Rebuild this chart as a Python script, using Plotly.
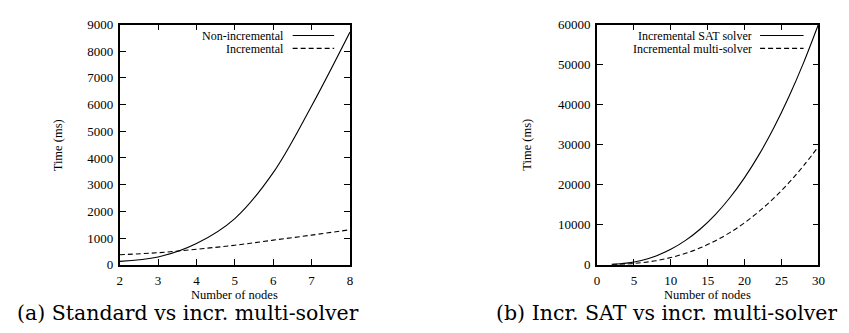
import plotly.graph_objects as go

# ---- data ----
left_nodes = [2, 3, 4, 5, 6, 7, 8]
non_incremental = [125, 290, 795, 1730, 3450, 5950, 8720]
incremental = [375, 450, 580, 730, 920, 1110, 1310]

right_nodes = [2, 4, 6, 8, 10, 12, 14, 16, 18, 20, 22, 24, 26, 28, 30]
incr_sat = [80, 390, 1070, 2200, 3850, 6070, 8930, 12460, 16730, 21770, 27630, 34340, 41950, 50490, 60000]
incr_multi = [40, 175, 490, 1010, 1790, 2850, 4220, 5940, 8020, 10490, 13380, 16700, 20480, 24740, 29500]

left_names = ["Non-incremental", "Incremental"]
right_names = ["Incremental SAT solver", "Incremental multi-solver"]
captions = ["(a) Standard vs incr. multi-solver", "(b) Incr. SAT vs incr. multi-solver"]
x_title = "Number of nodes"
y_title = "Time (ms)"

W, H = 849, 333
SERIF = "Liberation Serif, Times New Roman, Times, serif"
CAPFONT = "DejaVu Serif, serif"

fig = go.Figure()
solid = dict(color="black", width=1.1)
dashed = dict(color="black", width=1.1, dash="5px,3px")

fig.add_trace(go.Scatter(x=left_nodes, y=non_incremental, mode="lines", line=dict(shape="spline", **solid),
                         name=left_names[0], xaxis="x", yaxis="y", showlegend=False))
fig.add_trace(go.Scatter(x=left_nodes, y=incremental, mode="lines", line=dict(shape="spline", **dashed),
                         name=left_names[1], xaxis="x", yaxis="y", showlegend=False))
fig.add_trace(go.Scatter(x=right_nodes, y=incr_sat, mode="lines", line=dict(shape="spline", **solid),
                         name=right_names[0], xaxis="x2", yaxis="y2", showlegend=False))
fig.add_trace(go.Scatter(x=right_nodes, y=incr_multi, mode="lines", line=dict(shape="spline", **dashed),
                         name=right_names[1], xaxis="x2", yaxis="y2", showlegend=False))

def px_x(p):
    return p / W

def px_y(p):
    return 1 - p / H

left_dom = [px_x(110), px_x(343)]
right_dom = [px_x(593), px_x(817)]
y_dom = [px_y(261.5), px_y(10)]

tick_font = dict(family=SERIF, size=13, color="black")
axis_common = dict(showline=True, linecolor="black", linewidth=1.6, mirror="ticks", ticks="inside",
                   ticklen=6, tickwidth=1.4, tickcolor="black", showgrid=False, zeroline=False,
                   tickfont=tick_font, tickformat="d")

fig.update_layout(
    width=W, height=H, margin=dict(l=0, r=0, t=0, b=0),
    paper_bgcolor="white", plot_bgcolor="white",
    xaxis=dict(domain=left_dom, range=[2, 8], dtick=1, anchor="y", ticklabelstandoff=3, **axis_common),
    yaxis=dict(domain=y_dom, range=[0, 9000], dtick=1000, anchor="x", ticklabelstandoff=2, **axis_common),
    xaxis2=dict(domain=right_dom, range=[0, 30], dtick=5, anchor="y2", ticklabelstandoff=3, **axis_common),
    yaxis2=dict(domain=y_dom, range=[0, 60000], dtick=10000, anchor="x2", ticklabelstandoff=2, **axis_common),
)

label_font = dict(family=SERIF, size=12.5, color="black")
# axis titles
for cx in [(110 + 343) / 2, (593 + 817) / 2]:
    fig.add_annotation(x=px_x(cx), y=px_y(293.5), xref="paper", yref="paper", text=x_title,
                       showarrow=False, xanchor="center", yanchor="middle", height=12, valign="middle",
                       font=label_font)
for cx in [47, 522]:
    fig.add_annotation(x=px_x(cx), y=px_y(136), xref="paper", yref="paper", text=y_title, textangle=-90,
                       showarrow=False, xanchor="center", yanchor="middle", font=label_font)

# legends drawn gnuplot-style: text on the left, line sample on the right
key_font = dict(family=SERIF, size=12, color="black")
def add_key(text_right, line_x0, line_x1, rows, names):
    for (y, name, style) in zip(rows, names, ["solid", "dash"]):
        fig.add_annotation(x=px_x(text_right), y=px_y(y), xref="paper", yref="paper", text=name,
                           showarrow=False, xanchor="right", yanchor="middle", height=11, valign="middle",
                           font=key_font)
        fig.add_shape(type="line", xref="paper", yref="paper", x0=px_x(line_x0), x1=px_x(line_x1),
                      y0=px_y(y), y1=px_y(y),
                      line=dict(color="black", width=1.1, dash="solid" if style == "solid" else "5px,3px"))

add_key(278, 285, 327, [21.5, 35], left_names)
add_key(752, 758, 802, [21.5, 35], right_names)

cap_font = dict(family=CAPFONT, size=20.5, color="black")
fig.add_annotation(x=px_x(179), y=px_y(312), xref="paper", yref="paper", text=captions[0],
                   showarrow=False, xanchor="center", yanchor="middle", height=20, valign="middle",
                   font=cap_font)
fig.add_annotation(x=px_x(663), y=px_y(312), xref="paper", yref="paper", text=captions[1],
                   showarrow=False, xanchor="center", yanchor="middle", height=20, valign="middle",
                   font=cap_font)

fig.write_html("out.html")
